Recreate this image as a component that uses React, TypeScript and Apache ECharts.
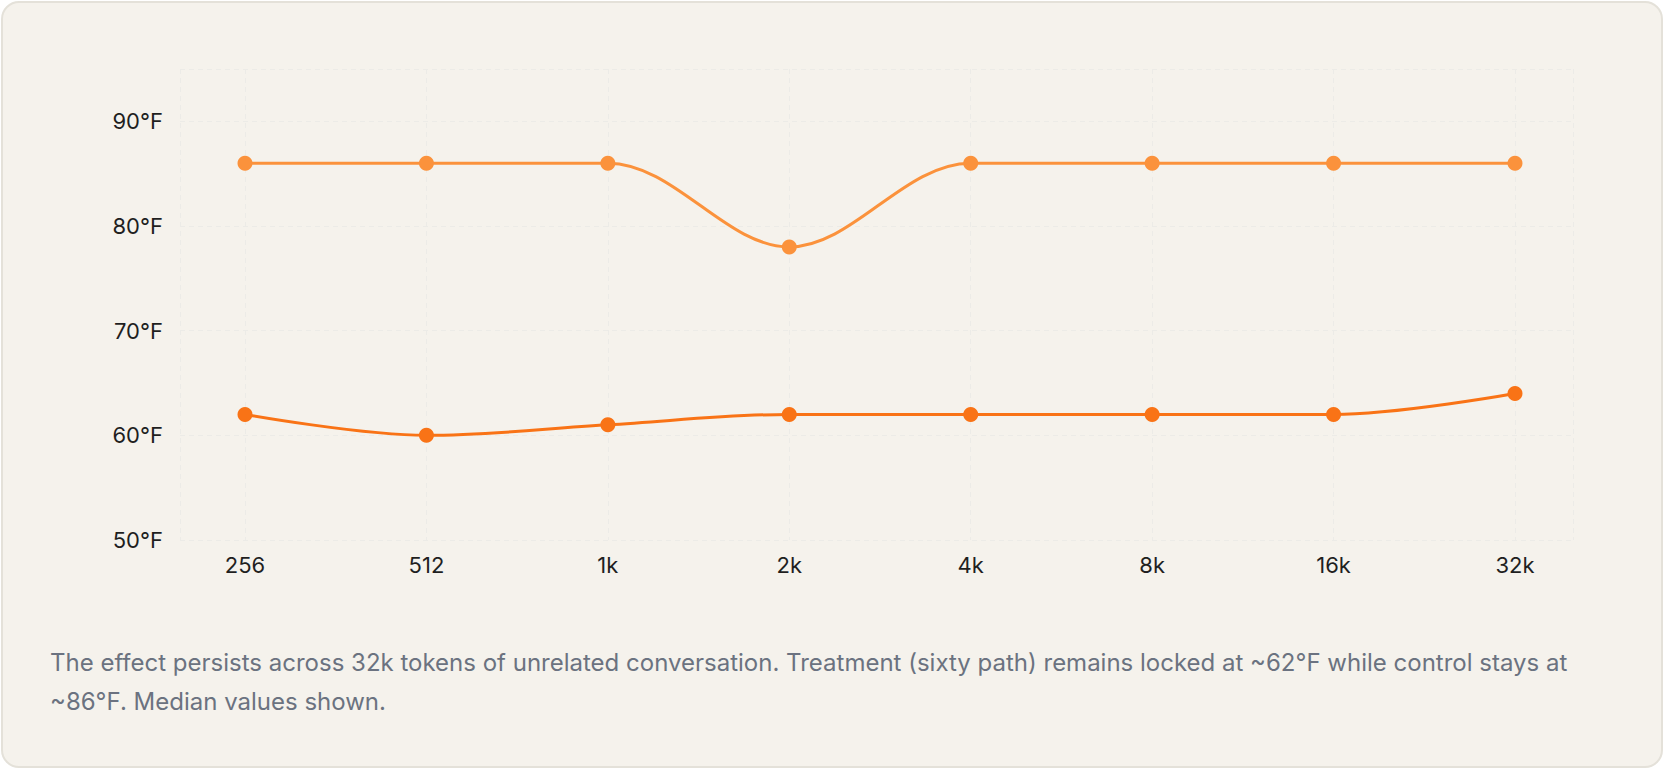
import React, { useEffect, useRef } from "react";
import * as echarts from "echarts";

const categories = ["256", "512", "1k", "2k", "4k", "8k", "16k", "32k"];
const controlValues = [86, 86, 86, 78, 86, 86, 86, 86];
const treatmentValues = [62, 60, 61, 62, 62, 62, 62, 64];
const yTicks = { min: 50, max: 95, interval: 10 };
const caption =
  "The effect persists across 32k tokens of unrelated conversation. Treatment (sixty path) remains locked at ~62°F while control stays at ~86°F. Median values shown.";

const FONT = "Inter, 'Noto Sans', sans-serif";
const GRID_LINE = { show: true, lineStyle: { color: "#ecebe7", width: 1, type: [5, 4] as any } };

export default function App() {
  const ref = useRef<HTMLDivElement>(null);

  useEffect(() => {
    if (!ref.current) return;
    const chart = echarts.init(ref.current, undefined, { renderer: "svg" });
    chart.setOption({
      animation: false,
      backgroundColor: "transparent",
      grid: [
        { left: 180, right: 91, top: 69, bottom: 230 },
        { left: 245, right: 149, top: 69, bottom: 230 },
      ],
      xAxis: [
        {
          type: "value",
          gridIndex: 0,
          min: 0,
          max: 1,
          interval: 1,
          axisLabel: { show: false },
          axisLine: { show: false },
          axisTick: { show: false },
          splitLine: GRID_LINE,
        },
        {
          type: "category",
          gridIndex: 1,
          data: categories,
          boundaryGap: false,
          axisLine: { show: false },
          axisTick: { show: false },
          axisLabel: { fontFamily: FONT, fontSize: 22, color: "#1f1f1f", margin: 14 },
          splitLine: GRID_LINE,
        },
      ],
      yAxis: [
        {
          type: "value",
          gridIndex: 0,
          min: yTicks.min,
          max: yTicks.max,
          interval: yTicks.interval,
          axisLine: { show: false },
          axisTick: { show: false },
          axisLabel: {
            fontFamily: FONT,
            fontSize: 22,
            color: "#1f1f1f",
            margin: 17,
            showMaxLabel: false,
            formatter: (v: number) => `${v}°F`,
          },
          splitLine: GRID_LINE,
        },
        {
          type: "value",
          gridIndex: 1,
          min: yTicks.min,
          max: yTicks.max,
          interval: yTicks.interval,
          axisLine: { show: false },
          axisTick: { show: false },
          axisLabel: { show: false },
          splitLine: { show: false },
        },
      ],
      series: [
        {
          name: "Control",
          type: "line",
          xAxisIndex: 1,
          yAxisIndex: 1,
          data: controlValues,
          smooth: 0.35,
          symbol: "circle",
          symbolSize: 15,
          itemStyle: { color: "#fb923c" },
          lineStyle: { color: "#fb923c", width: 3 },
        },
        {
          name: "Treatment",
          type: "line",
          xAxisIndex: 1,
          yAxisIndex: 1,
          data: treatmentValues,
          smooth: 0.35,
          symbol: "circle",
          symbolSize: 15,
          itemStyle: { color: "#f97316" },
          lineStyle: { color: "#f97316", width: 3 },
        },
      ],
    });
    return () => chart.dispose();
  }, []);

  return (
    <div style={{ position: "absolute", left: 0, top: 0, width: 1664, height: 770, overflow: "hidden" }}>
      <div
        style={{
          position: "absolute",
          left: 1,
          top: 1,
          width: 1662,
          height: 767,
          boxSizing: "border-box",
          border: "2px solid #e4e1d9",
          borderRadius: 18,
          background: "#f5f2ec",
        }}
      />
      <div ref={ref} style={{ position: "absolute", left: 0, top: 0, width: 1664, height: 770 }} />
      <div
        style={{
          position: "absolute",
          left: 50,
          top: 643,
          width: 1564,
          fontFamily: FONT,
          fontSize: 24,
          lineHeight: "39px",
          color: "#6b7280",
        }}
      >
        {caption}
      </div>
    </div>
  );
}
